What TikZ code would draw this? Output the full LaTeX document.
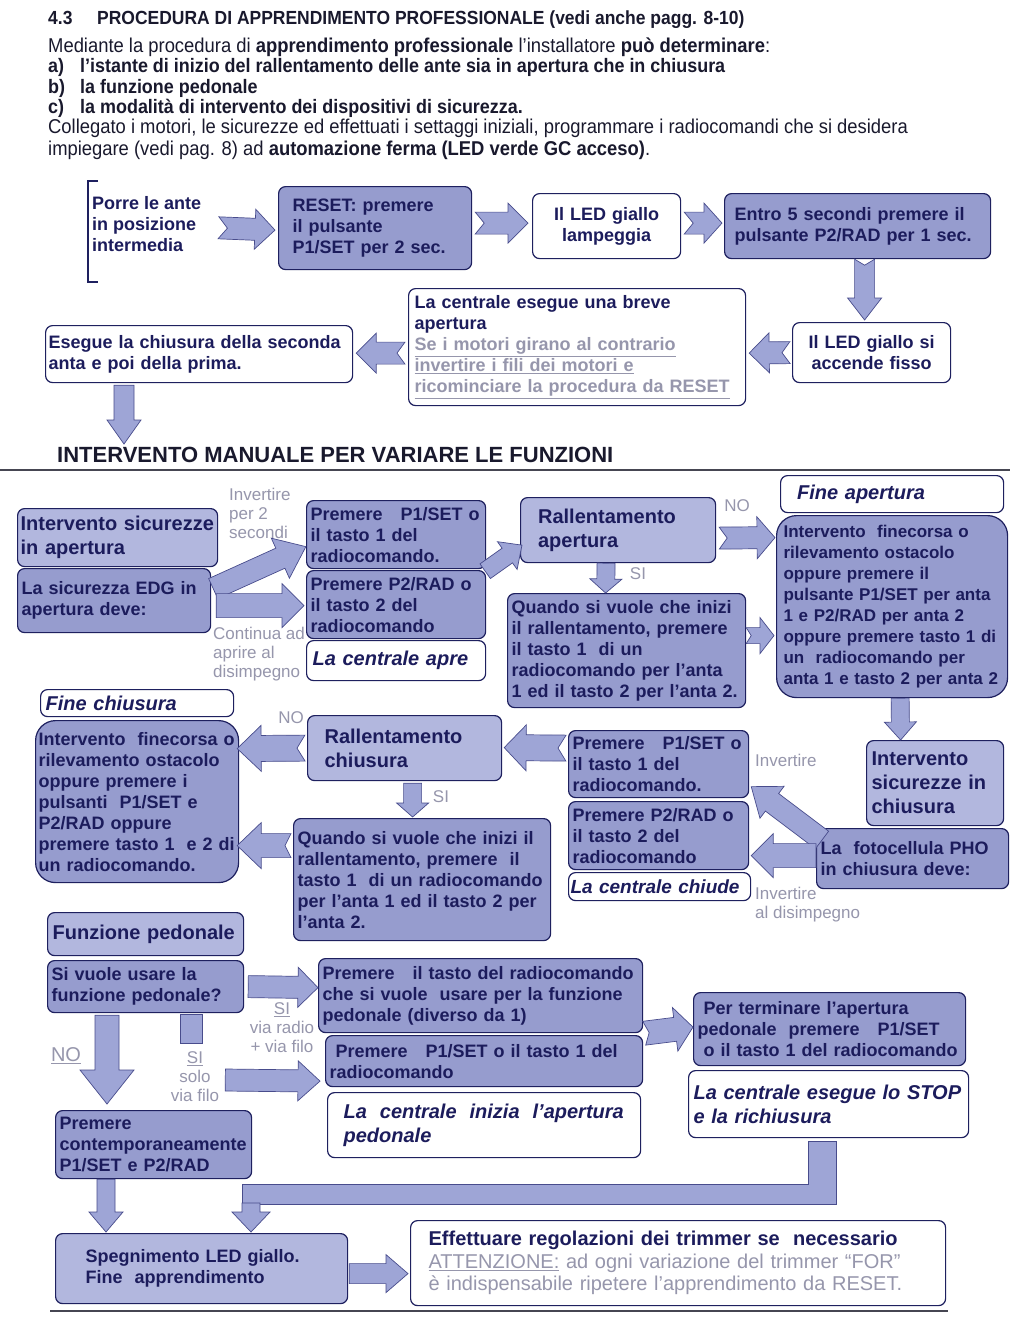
\documentclass[tikz,border=0pt]{standalone}
\usepackage{fontspec}
\setmainfont{Liberation Sans}
\newfontfamily\narrowfont{Liberation Sans}[FakeStretch=0.92]
\usepackage{tikz}
\usetikzlibrary{calc}
\definecolor{navy}{RGB}{28,28,92}
\definecolor{boxline}{RGB}{30,32,95}
\definecolor{boxfill}{RGB}{150,156,206}
\definecolor{lightfill}{RGB}{178,183,222}
\definecolor{arrowfill}{RGB}{158,165,214}
\definecolor{arrowline}{RGB}{72,76,140}
\definecolor{notegray}{RGB}{150,150,172}
\definecolor{rulegray}{RGB}{70,70,82}
\definecolor{inktext}{RGB}{25,25,45}

% block arrow from #2 to #3
\tikzset{
  fat shaft/.store in=\fatshaft, fat head/.store in=\fathead,
  fat len/.store in=\fatlen, fat notch/.store in=\fatnotch,
  fat shaft=22, fat head=40, fat len=20, fat notch=0,
  arrowbody/.style={fill=arrowfill, draw=arrowline, line width=0.7pt},
}
\newcommand{\fatarrow}[3][]{%
  \begin{scope}[#1]
    \filldraw[arrowbody] let \p1=(#2), \p2=(#3),
        \n1={atan2(\y2-\y1,\x2-\x1)}, \n2={veclen(\x2-\x1,\y2-\y1)} in
      [shift={(\p1)}, rotate=\n1]
      (0,-\fatshaft/2) -- (\n2-\fatlen,-\fatshaft/2) -- (\n2-\fatlen,-\fathead/2)
      -- (\n2,0) -- (\n2-\fatlen,\fathead/2) -- (\n2-\fatlen,\fatshaft/2)
      -- (0,\fatshaft/2) -- (\fatnotch,0) -- cycle;
  \end{scope}}

\begin{document}
\begin{tikzpicture}[x=1pt,y=-1pt,
    cell/.style={anchor=north west, draw=boxline, line width=1.2pt, rounded corners=7pt,
      fill=boxfill, text=navy, align=left, inner xsep=6pt, inner ysep=2pt,
      font=\fontsize{18}{21}\selectfont\bfseries},
    lcell/.style={cell, fill=lightfill},
    wcell/.style={cell, fill=white},
    icell/.style={wcell, font=\fontsize{20}{24}\selectfont\bfseries\itshape},
    bigtxt/.style={font=\fontsize{20}{24}\selectfont\bfseries},
    sz/.style 2 args={minimum width=#1, minimum height=#2, text width=#1-12},
    hint/.style={text=notegray, font=\fontsize{17}{19}\selectfont, inner sep=0pt},
    head/.style={anchor=west, inner sep=0pt, text=inktext,
      font=\narrowfont\fontsize{20}{21}\selectfont},
    headb/.style={head, font=\narrowfont\bfseries\fontsize{19.5}{21}\selectfont}]
  \fill[white] (0,0) rectangle (1024,1320);
  \useasboundingbox (0,0) rectangle (1024,1320);

  % heading and introduction
  \node[head, font=\narrowfont\bfseries\fontsize{19}{21}\selectfont] (sec) at (48,20)
    {4.3\hspace{1.3em}PROCEDURA DI APPRENDIMENTO PROFESSIONALE (vedi anche pagg. 8-10)};
  \node[head] (intro) at (48,47) {Mediante la procedura di \textbf{apprendimento professionale} l’installatore \textbf{può determinare}:};
  \node[headb] (pta) at (48,67)
    {\makebox[32pt][l]{a)}l’istante di inizio del rallentamento delle ante sia in apertura che in chiusura};
  \node[headb] (ptb) at (48,88) {\makebox[32pt][l]{b)}la funzione pedonale};
  \node[headb] (ptc) at (48,108) {\makebox[32pt][l]{c)}la modalità di intervento dei dispositivi di sicurezza.};
  \node[head] (coll) at (48,128) {Collegato i motori, le sicurezze ed effettuati i settaggi iniziali, programmare i radiocomandi che si desidera};
  \node[head] (impieg) at (48,150) {impiegare (vedi pag. 8) ad \textbf{automazione ferma (LED verde GC acceso)}.};

  % reset procedure
  \node[anchor=north west, inner sep=0pt, align=left, text=navy,
    font=\fontsize{18}{21}\selectfont\bfseries] (porre) at (92,196) {Porre le ante\\in posizione\\intermedia};
  \draw[boxline, line width=1.2pt] (98,181) -- (88,181) -- (88,282) -- (98,282);
  \node[cell, sz={189}{83}, inner xsep=14pt, text width=165] (reset) at (278,186) {RESET: premere\\il pulsante\\P1/SET per 2 sec.};
  \node[wcell, sz={148}{65}, align=center] (lamp) at (532,193) {Il LED giallo\\lampeggia};
  \node[cell, sz={266}{65}, inner xsep=10pt, text width=246] (entro) at (724,193) {Entro 5 secondi premere il\\pulsante P2/RAD per 1 sec.};
  \node[wcell, sz={158}{60}, align=center] (fisso) at (792,322) {Il LED giallo si\\accende fisso};
  \node[wcell, sz={337}{117}] (breve) at (408,288) {La centrale esegue una breve\\apertura\\
    \textcolor{notegray}{\underline{Se i motori girano al contrario}}\\
    \textcolor{notegray}{\underline{invertire i fili dei motori e}}\\
    \textcolor{notegray}{\underline{ricominciare la procedura da RESET}}};
  \node[wcell, sz={307}{57}, inner xsep=3pt, text width=301] (esegue) at (45,325) {Esegue la chiusura della seconda\\anta e poi della prima.};

  \fatarrow[fat notch=9]{$(porre.east)+(17,4)$}{$(reset.west)+(-3,2)$}
  \fatarrow[fat notch=9]{$(reset.east)+(3,-5)$}{$(lamp.west)+(-4,-3)$}
  \fatarrow[fat notch=9, fat len=18]{$(lamp.east)+(3,-3)$}{$(entro.west)+(-2,-3)$}
  \fatarrow[fat head=34, fat shaft=20, fat len=22, fat notch=6]{$(entro.south)+(7,0)$}{$(fisso.north)+(-7,-2)$}
  \fatarrow[fat notch=8]{$(fisso.west)+(-2,0)$}{$(breve.east)+(3,6)$}
  \fatarrow[fat notch=8]{$(breve.west)+(-3,6)$}{$(esegue.east)+(3,-1)$}

  \node[anchor=west, inner sep=0pt, text=inktext, font=\fontsize{22}{24}\selectfont\bfseries] (title) at (57,455)
    {INTERVENTO MANUALE PER VARIARE LE FUNZIONI};
  \fatarrow[fat head=34, fat shaft=20, fat len=24]{$(esegue.south west)+(79,2)$}{$(title.north west)+(67,-3)$}
  \draw[rulegray, line width=2pt] (0,470) -- (1010,470);

  % safety in opening
  \node[lcell, sz={200}{58}, bigtxt, inner xsep=3pt, text width=194] (sicap) at (17,508) {Intervento sicurezze\\in apertura};
  \node[cell, sz={193}{64}, inner xsep=4pt, text width=185] (edg) at (17,568) {La sicurezza EDG in\\apertura deve:};
  \node[cell, sz={179}{68}, inner xsep=4pt, text width=171] (p1a) at (306,500) {Premere\ \ \ P1/SET o\\il tasto 1 del\\radiocomando.};
  \node[cell, sz={179}{68}, inner xsep=4pt, text width=171] (p2a) at (306,570) {Premere P2/RAD o\\il tasto 2 del\\radiocomando};
  \node[icell, sz={179}{40}, inner xsep=6pt] (apre) at (306,640) {La centrale apre};
  \node[hint, anchor=west, align=left] (inv2) at (229,513) {Invertire\\per 2\\secondi};
  \node[hint, anchor=west, align=left] (contad) at (213,654) {Continua ad\\aprire al\\disimpegno};
  \fatarrow[fat head=44, fat len=28]{$(edg.east)+(2,-12)$}{$(p1a.west)+(0,12)$}
  \fatarrow[fat head=44, fat shaft=24, fat len=22]{$(edg.east)+(5,5)$}{$(p2a.west)+(-2,1)$}

  % slowing down in opening
  \node[lcell, sz={195}{65}, bigtxt, inner xsep=16pt, text width=160] (rallap) at (520,497) {Rallentamento\\apertura};
  \node[cell, sz={238}{114}, inner xsep=4pt, text width=230] (quandoap) at (507,593) {Quando si vuole che inizi\\il rallentamento, premere\\il tasto 1\ \ di un\\radiocomando per l’anta\\1 ed il tasto 2 per l’anta 2.};
  \node[icell, sz={223}{37}, inner xsep=16pt, text width=190] (fineap) at (780,475) {Fine apertura};
  \node[cell, sz={231}{182}, rounded corners=20pt, inner xsep=7pt, text width=217,
    font=\fontsize{17}{21}\selectfont\bfseries] (fcap) at (776,515)
    {Intervento\ \ finecorsa o\\rilevamento ostacolo\\oppure premere il\\pulsante P1/SET per anta\\1 e P2/RAD per anta 2\\oppure premere tasto 1 di\\un\ \ radiocomando per\\anta 1 e tasto 2 per anta 2};
  \node[hint] (noap) at (737,506) {NO};
  \node[hint] (siap) at (638,574) {SI};
  \fatarrow[fat head=34, fat shaft=18, fat len=18]{$(p1a.south east)+(-1,2)$}{$(rallap.west)+(2,15)$}
  \fatarrow[fat head=42, fat len=18, fat notch=8]{$(rallap.east)+(3,8)$}{$(fcap.west)+(-1,-69)$}
  \fatarrow[fat head=32, fat shaft=18, fat len=14]{$(rallap.south)+(-12,0)$}{$(quandoap.north)+(-21,0)$}
  \fatarrow[fat head=36, fat shaft=16, fat len=14, fat notch=5]{$(quandoap.east)+(0,-15)$}{$(fcap.west)+(-2,29)$}

  % safety in closing
  \node[lcell, sz={137}{85}, bigtxt, inner xsep=5pt, text width=127] (sicch) at (866,740) {Intervento\\sicurezze in\\chiusura};
  \node[cell, sz={192}{60}, inner xsep=4pt, text width=184] (pho) at (816,828) {La\ \ fotocellula PHO\\in chiusura deve:};
  \node[cell, sz={180}{67}, inner xsep=4pt, text width=172] (p1c) at (568,730) {Premere\ \ \ P1/SET o\\il tasto 1 del\\radiocomando.};
  \node[cell, sz={180}{68}, inner xsep=4pt, text width=172] (p2c) at (568,801) {Premere P2/RAD o\\il tasto 2 del\\radiocomando};
  \node[icell, sz={180}{28}, inner xsep=2pt, inner ysep=0pt, text width=178,
    font=\fontsize{19}{22}\selectfont\bfseries\itshape] (chiude) at (568,872) {La centrale chiude};
  \node[hint, anchor=west] (invch) at (755,760) {Invertire};
  \node[hint, anchor=west, align=left] (invdis) at (755,905) {Invertire\\al disimpegno};
  \fatarrow[fat head=32, fat shaft=18, fat len=18]{$(fcap.south)+(8,0)$}{$(sicch.north)+(-34.5,0)$}
  \fatarrow[fat len=26]{$(pho.north west)+(6,12)$}{$(p1c.east)+(2,22.5)$}
  \fatarrow[fat head=44, fat shaft=24, fat len=22]{$(pho.west)+(0,-3)$}{$(p2c.east)+(2,20)$}

  % slowing down in closing
  \node[lcell, sz={194}{65}, bigtxt, inner xsep=16pt, text width=160] (rallch) at (307,715) {Rallentamento\\chiusura};
  \node[cell, sz={257}{122}, inner xsep=4pt, text width=249] (quandoch) at (293,818) {Quando si vuole che inizi il\\rallentamento, premere\ \ il\\tasto 1\ \ di un radiocomando\\per l’anta 1 ed il tasto 2 per\\l’anta 2.};
  \node[icell, sz={193}{27}, inner xsep=5pt, inner ysep=0pt, text width=183] (finech) at (40,689) {Fine chiusura};
  \node[cell, sz={203}{162}, rounded corners=20pt, inner xsep=3pt, text width=197] (fcch) at (35,720)
    {Intervento\ \ finecorsa o\\rilevamento ostacolo\\oppure premere i\\pulsanti\ \ P1/SET e\\P2/RAD oppure\\premere tasto 1\ \ e 2 di\\un radiocomando.};
  \node[hint] (noch) at (291,718) {NO};
  \node[hint] (sich) at (441,797) {SI};
  \fatarrow[fat head=46, fat shaft=26, fat len=22, fat notch=8]{$(p1c.west)+(-2,-16)$}{$(rallch.east)+(2,-0.5)$}
  \fatarrow[fat head=46, fat shaft=26, fat len=24, fat notch=8]{$(rallch.west)+(-2,0)$}{$(fcch.east)+(-2,-53)$}
  \fatarrow[fat head=32, fat shaft=18, fat len=14]{$(rallch.south)+(8,2)$}{$(quandoch.north)+(-9.5,-1)$}
  \fatarrow[fat head=46, fat shaft=24, fat len=24, fat notch=6]{$(quandoch.west)+(-2,-34)$}{$(fcch.east)+(-2,44)$}

  % pedestrian function
  \node[lcell, sz={196}{43}, bigtxt, inner xsep=5pt, text width=186] (funzped) at (47,912) {Funzione pedonale};
  \node[cell, sz={196}{52}, inner xsep=4pt, text width=188] (sivuole) at (47,960) {Si vuole usare la\\funzione pedonale?};
  \node[cell, sz={324}{74}, inner xsep=4pt, text width=316] (tasto) at (318,958) {Premere\ \ \ il tasto del radiocomando\\che si vuole\ \ usare per la funzione\\pedonale (diverso da 1)};
  \node[cell, sz={317}{51}, inner xsep=4pt, text width=309] (p1ped) at (325,1035) {\ Premere\ \ \ P1/SET o il tasto 1 del\\radiocomando};
  \node[icell, sz={313}{65}, inner xsep=16pt, text width=281] (inizia) at (327,1092)
    {La\hspace{13pt}centrale\hspace{13pt}inizia\hspace{13pt}l’apertura\\pedonale};
  \node[cell, sz={272}{73}, inner xsep=4pt, text width=264] (termina) at (693,992) {\ Per terminare l’apertura\\pedonale\ \ premere\ \ \ P1/SET\\\ o il tasto 1 del radiocomando};
  \node[icell, sz={280}{67}, inner xsep=5pt, text width=270] (stop) at (688,1070) {La centrale esegue lo STOP\\e la richiusura};
  \node[cell, sz={196}{68}, inner xsep=4pt, text width=188] (contemp) at (55,1110) {Premere\\contemporaneamente\\P1/SET e P2/RAD};
  \node[hint, font=\fontsize{20}{22}\selectfont] (noped) at (66,1056) {\underline{NO}};
  \node[hint, align=center] (siradio) at (282,1028) {\underline{SI}\\via radio\\+ via filo};
  \node[hint, align=center] (sifilo) at (195,1077) {\underline{SI}\\solo\\via filo};
  \fatarrow{$(sivuole.east)+(4,0)$}{$(tasto.west)+(0,-8)$}
  \fatarrow[fat head=54, fat shaft=24, fat len=34]{$(sivuole.south west)+(60,2)$}{$(contemp.north west)+(52,-6)$}
  \filldraw[arrowbody] ($(sivuole.south west)+(133,1)$) rectangle ($(sivuole.south west)+(155,30)$);
  \fatarrow[fat head=40, fat shaft=22, fat len=22]{$(sifilo.east)+(6,3)$}{$(p1ped.west)+(-5,20)$}
  \fatarrow[fat head=44, fat shaft=24, fat len=18, fat notch=5]{$(tasto.south east)+(1,0)$}{$(termina.west)+(0,-2)$}

  % end of learning
  \node[lcell, sz={292}{70}, inner xsep=30pt, text width=232] (speg) at (55,1233) {Spegnimento LED giallo.\\Fine\ \ apprendimento};
  \node[wcell, sz={535}{85}, bigtxt, inner xsep=18pt, text width=499,
    font=\fontsize{20}{22.5}\selectfont\bfseries] (effett) at (410,1220)
    {Effettuare regolazioni dei trimmer se\ \ necessario\\
     {\mdseries\color{notegray}\underline{ATTENZIONE:} ad ogni variazione del trimmer “FOR”}\\
     {\mdseries\color{notegray}è indispensabile ripetere l’apprendimento da RESET.}};
  \filldraw[arrowbody] ($(stop.south)+(-20,3)$) -- ++(28,0) -- ++(0,63) -- ++(-594,0)
    -- ++(0,-20) -- ++(566,0) -- cycle;
  \fatarrow[fat head=38, fat shaft=18, fat len=20]{$(speg.north west)+(196,-30)$}{$(speg.north west)+(196,-1)$}
  \fatarrow[fat head=34, fat shaft=18, fat len=20]{$(contemp.south west)+(51,0)$}{$(speg.north west)+(51,-1)$}
  \fatarrow[fat head=38, fat shaft=20, fat len=22]{$(speg.east)+(1,5)$}{$(effett.west)+(-2,10.5)$}
  \draw[rulegray, line width=2pt] (50,1311) -- (948,1311);
\end{tikzpicture}
\end{document}
